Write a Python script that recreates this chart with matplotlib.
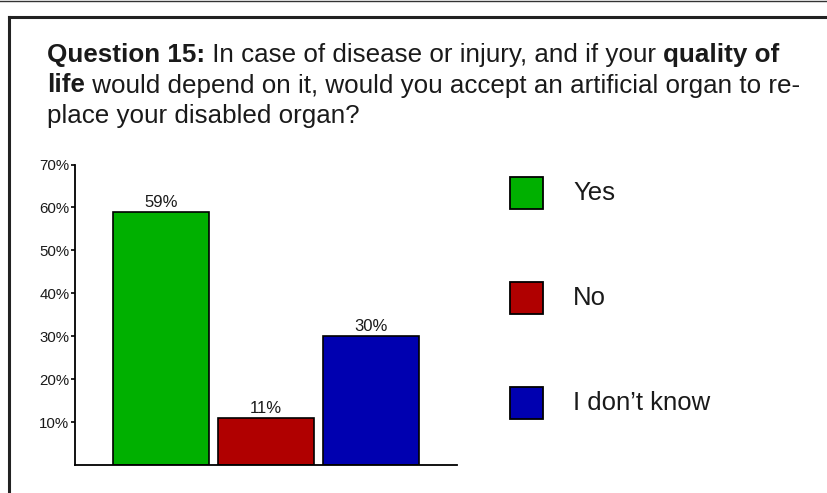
import matplotlib.pyplot as plt
from matplotlib.patches import Rectangle
from matplotlib.lines import Line2D

categories = ["Yes", "No", "I don\u2019t know"]
values = [59, 11, 30]
colors = ["#00b000", "#b00000", "#0000b0"]
yticks = [10, 20, 30, 40, 50, 60, 70]
question = [
    [("Question 15:", "bold"), (" In case of disease or injury, and if your ", "normal"), ("quality of", "bold")],
    [("life", "bold"), (" would depend on it, would you accept an artificial organ to re-", "normal")],
    [("place your disabled organ?", "normal")],
]

plt.rcParams['font.family'] = ['Liberation Sans', 'DejaVu Sans']

W, H = 827, 493
fig = plt.figure(figsize=(W / 100, H / 100), dpi=100)

# frame lines round the panel
fig.add_artist(Line2D([0, 1], [1 - 1 / H, 1 - 1 / H], color="#333333", lw=1.0))
fig.add_artist(Line2D([9 / W, 1], [1 - 16.5 / H, 1 - 16.5 / H], color="#222222", lw=2.2))
fig.add_artist(Line2D([9 / W, 9 / W], [0, 1 - 16.5 / H], color="#222222", lw=2.2))

# question text, mixed bold / normal runs
fs = 18.7
fig.canvas.draw()
renderer = fig.canvas.get_renderer()
baselines = [62, 92.5, 123]
for parts, base in zip(question, baselines):
    x = 47
    for s, w in parts:
        t = fig.text(x / W, 1 - base / H, s, fontsize=fs, fontweight=w,
                     va="baseline", ha="left", color="#1a1a1a")
        x += t.get_window_extent(renderer).width

ax = fig.add_axes([75 / W, 1 - 465 / H, (457 - 75) / W, (465 - 164.5) / H])
x = range(len(values))
ax.bar(x, values, width=0.914, color=colors, edgecolor="black", linewidth=1.2)
for xi, v in zip(x, values):
    ax.text(xi, v + 0.4, f"{v}%", ha="center", va="bottom", fontsize=12, color="#1a1a1a")

ax.set_xlim(-0.82, 2.82)
ax.set_ylim(0, 70)
ax.set_yticks(yticks)
ax.set_yticklabels([f"{t}%" for t in yticks], fontsize=10.8, color="#1a1a1a")
ax.set_xticks([])
ax.spines["top"].set_visible(False)
ax.spines["right"].set_visible(False)
ax.spines["left"].set_linewidth(1.3)
ax.spines["bottom"].set_linewidth(1.3)
ax.tick_params(axis="y", direction="out", length=3, width=1.2, pad=1)

# legend squares and labels
leg_y = [193, 298, 403]
for c, lab, yy in zip(colors, categories, leg_y):
    fig.add_artist(Rectangle((510 / W, 1 - (yy + 16) / H), 33 / W, 32 / H,
                             facecolor=c, edgecolor="black", linewidth=1.3, transform=fig.transFigure))
    fig.text(573 / W, 1 - yy / H, lab, fontsize=18.5, va="center", ha="left", color="#1a1a1a")

fig.savefig("out.png", dpi=100)
